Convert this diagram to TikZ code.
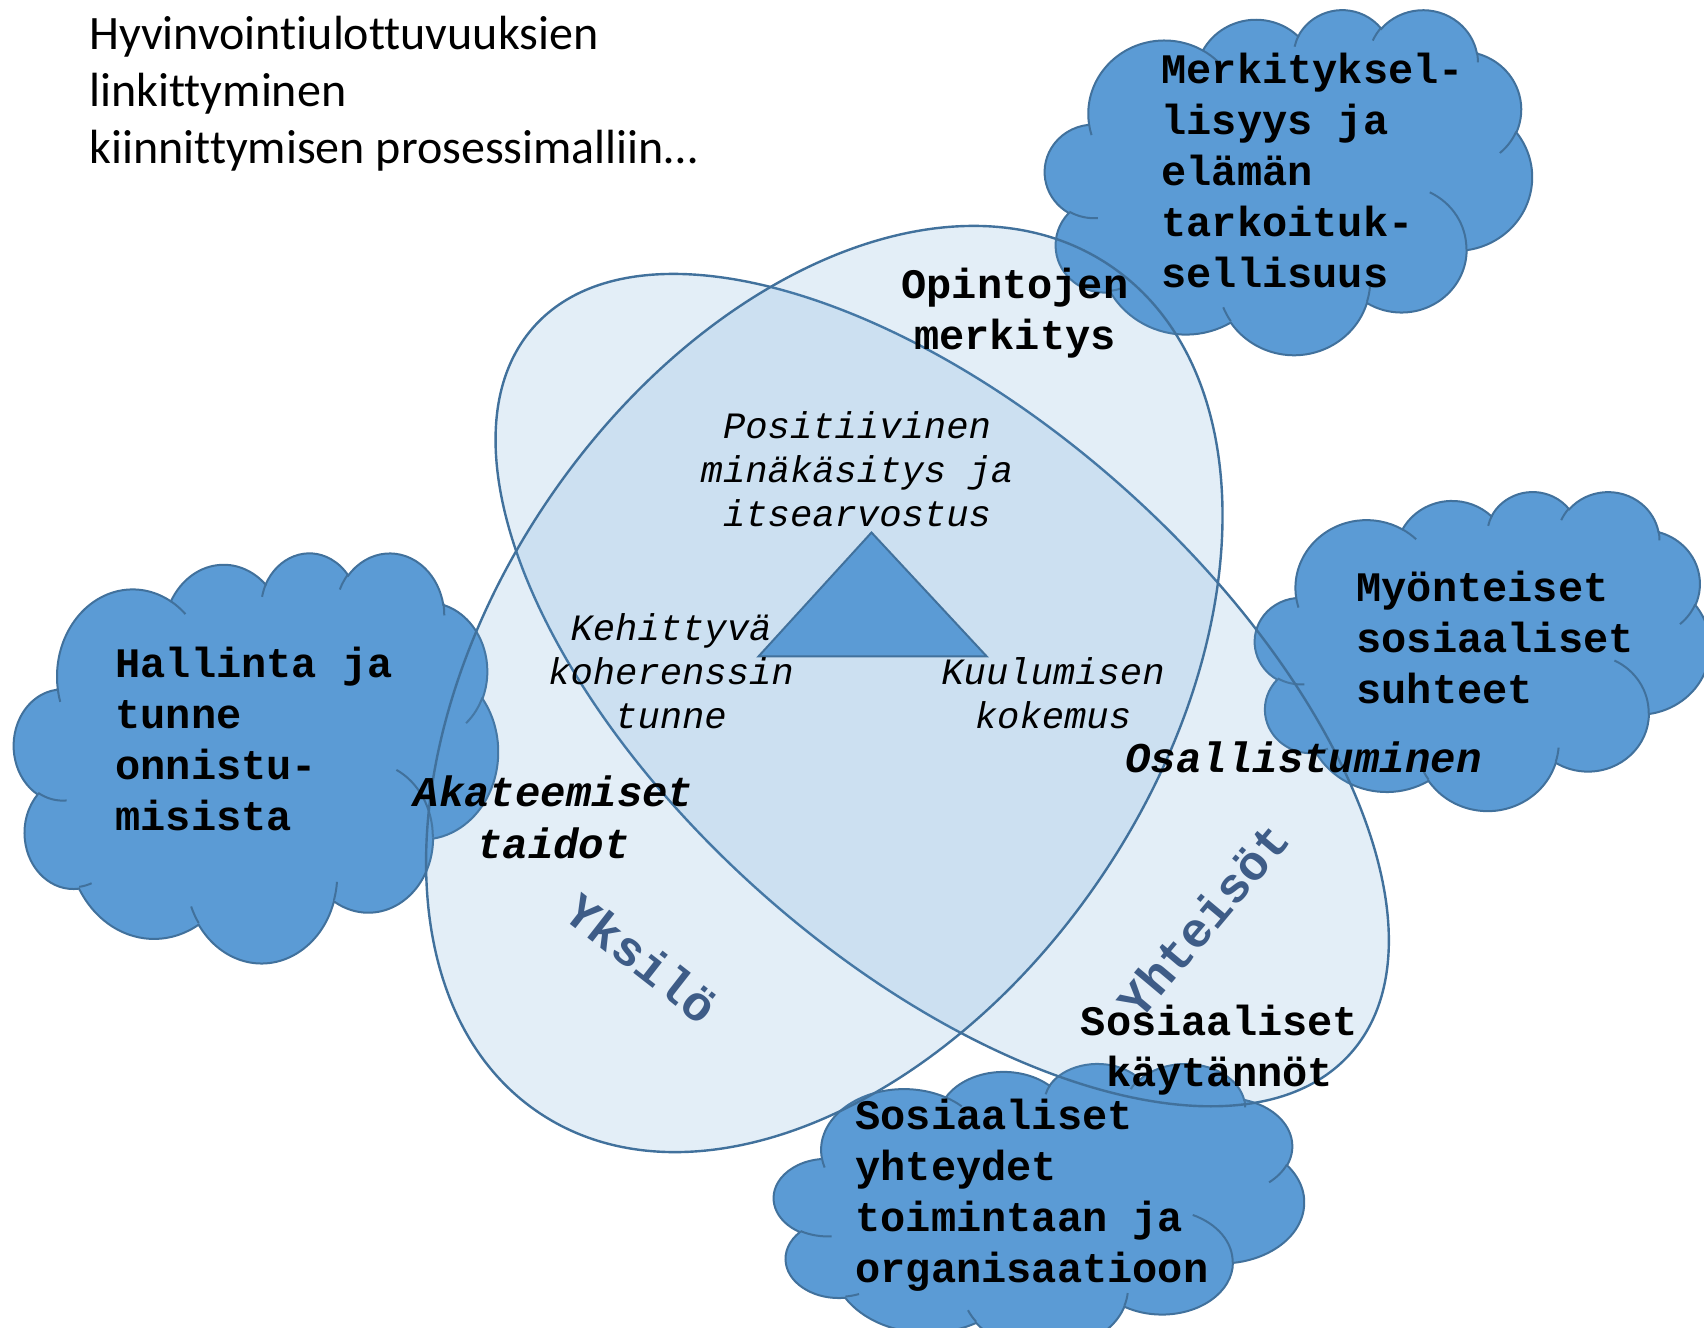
\documentclass[tikz,border=0pt]{standalone}
\usepackage{fontspec}
\setmainfont{Liberation Mono}
\newfontfamily\titlef[Ligatures={NoCommon}]{Carlito}
\definecolor{cfill}{HTML}{5B9BD5}
\definecolor{cedge}{HTML}{41719C}
\definecolor{dimblue}{HTML}{3E5C87}
\tikzset{
  ocloud/.pic={
    \filldraw[cloudbody] (390,1437)
      arc[oa={675.3}{919.0}{-190.4875}{123.7805}]
      arc[oa={533.3}{726.7}{-144.1024}{89.9452}]
      arc[oa={436.5}{594.5}{-145.8079}{99.7230}]
      arc[oa={485.7}{659.5}{-130.9861}{117.2417}]
      arc[oa={533.3}{727.3}{-78.7089}{109.0269}]
      arc[oa={677.5}{922.0}{-46.2673}{130.2690}]
      arc[oa={578.5}{786.7}{0.6250}{114.0333}]
      arc[oa={675.2}{921.5}{22.4516}{115.1726}]
      arc[oa={772.0}{1054.3}{66.2426}{75.7110}]
      arc[oa={436.0}{591.8}{-274.9421}{146.7356}]
      arc[oa={434.5}{594.5}{-246.8285}{152.5189}]
      -- cycle;
    \draw[cloudinner]
      (469.3,2617.7) arc[oa={434.5}{594.5}{86.742}{26.4295}]
      (692.8,3489.9) arc[oa={436.0}{591.8}{73.6105}{11.4475}]
      (1647.8,3909.0) arc[oa={675.2}{921.5}{137.6242}{14.0811}]
      (2882.7,3475.1) arc[oa={675.2}{921.5}{6.4533}{15.9984}]
      (3412.9,2295.4) arc[oa={578.5}{786.7}{-70.2924}{70.9174}]
      (4179.8,1535.4) arc[oa={533.3}{727.3}{30.318}{27.7515}]
      (3832.4,542.6) arc[oa={485.7}{659.5}{-13.7443}{14.8589}]
      (2907.8,395.2) arc[oa={485.7}{659.5}{-149.1815}{18.1954}]
      (2214.1,472.0) arc[oa={436.5}{594.5}{-163.4943}{17.6864}]
      (1400.0,519.2) arc[oa={675.3}{919.0}{-66.7070}{12.3194}]
      (412.7,1578.9) arc[oa={675.3}{919.0}{157.6544}{11.8582}];
  }
}
\begin{document}
\begin{tikzpicture}[x=0.5pt,y=-0.5pt,
  declare function={cpa(\rx,\ry,\an)=atan2(\rx*sin(\an),\ry*cos(\an));
                    cpd(\rx,\ry,\an,\sw)=mod(cpa(\rx,\ry,\an+\sw)-cpa(\rx,\ry,\an)+720,360);},
  oa/.style n args={4}{x radius=#1,y radius=#2,start angle={cpa(#1,#2,#3)},delta angle={cpd(#1,#2,#3,#4)}},
  cloudbody/.style={fill=cfill,draw=cedge,line width=1pt},
  cloudinner/.style={draw=cedge,line width=1pt},
  ellst/.style={draw=cedge,line width=1.2pt,fill=cfill,fill opacity=0.17},
  tri/.style={fill=cfill,draw=cedge,line width=1pt},
  cloudtxt/.style={font=\fontsize{21}{25.4}\selectfont\bfseries,align=left,anchor=base west,inner sep=0pt},
  boldc/.style={font=\fontsize{21}{25.2}\selectfont\bfseries,align=center,anchor=base,inner sep=0pt},
  itc/.style={font=\fontsize{18.6}{22}\selectfont\itshape,align=center,anchor=base,inner sep=0pt},
  bic/.style={font=\fontsize{21.2}{26}\selectfont\bfseries\itshape,align=center,anchor=base,inner sep=0pt},
  dimtext/.style={font=\fontsize{24.5}{30}\selectfont\bfseries,text=dimblue,inner sep=0pt},
  ttl/.style={font=\titlef\fontsize{24}{28.5}\selectfont,align=left,anchor=base west,inner sep=0pt}
]
\fill[white] (0,0) rectangle (1704,1328);
\useasboundingbox (0,0) rectangle (1704,1328);

% clouds
\path (1045,9) pic (cloudtr) [xscale=0.11273,yscale=0.07986] {ocloud};
\path (14,552) pic (cloudl) [xscale=0.11204,yscale=0.09491] {ocloud};
\path (1255,491) pic (cloudr) [xscale=0.10532,yscale=0.07384] {ocloud};
\path (774,1063) pic (cloudb) [xscale=0.12269,yscale=0.06620] {ocloud};

% ellipses
\draw[ellst, rotate around={-41.65:(942.2,690.1)}] (942.2,690.1) ellipse [x radius=546.6, y radius=271.7];
\draw[ellst, rotate around={56:(824.3,689)}] (824.3,689) ellipse [x radius=510.8, y radius=334.7];

% triangle
\filldraw[tri] (871.5,532.5) -- (986.7,656.4) -- (758.5,656.4) -- cycle;

% texts (anchor = baseline of the last line)
\node[ttl] (title) at (89,163) {Hyvinvointiulottuvuuksien\\linkittyminen\\kiinnittymisen prosessimalliin…};
\node[cloudtxt] (merk) at (1161,287) {Merkityksel-\\lisyys ja\\elämän\\tarkoituk-\\sellisuus};
\node[cloudtxt] (hall) at (115,830) {Hallinta ja\\tunne\\onnistu-\\misista};
\node[cloudtxt] (myon) at (1356,703) {Myönteiset\\sosiaaliset\\suhteet};
\node[cloudtxt] (yhte) at (855,1282) {Sosiaaliset\\yhteydet\\toimintaan ja\\organisaatioon};
\node[boldc] (opin) at (1015,349) {Opintojen\\merkitys};
\node[itc] (posi) at (857,526) {Positiivinen\\minäkäsitys ja\\itsearvostus};
\node[itc] (kehi) at (671,728) {Kehittyvä\\koherenssin\\tunne};
\node[itc] (kuul) at (1053,728) {Kuulumisen\\kokemus};
\node[bic] (akat) at (553.5,858) {Akateemiset\\taidot};
\node[bic, anchor=base west] (osal) at (1125,772) {Osallistuminen};
\node[boldc] (kayt) at (1219.5,1086) {Sosiaaliset\\käytännöt};
\node[dimtext, rotate=-38] (yksi) at (642,958) {Yksilö};
\node[dimtext, rotate=50] (yhts) at (1203,920) {Yhteisöt};
\end{tikzpicture}
\end{document}
